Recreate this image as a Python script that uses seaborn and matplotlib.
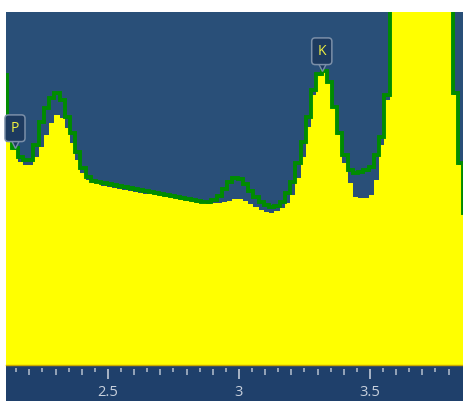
import numpy as np
import pandas as pd
import matplotlib
matplotlib.use("Agg")
import matplotlib.pyplot as plt
import matplotlib.transforms as mtransforms
from matplotlib.patches import Rectangle
import seaborn as sns

# ---------------- data ----------------
channel_start = 2.105      # keV, centre of first channel
channel_width = 0.02       # keV per channel

spectrum_counts = [
    223, 223, 215, 203, 200, 200, 208, 218, 230, 242,
    250, 247, 237, 222, 205, 192, 185, 182, 182, 179,
    178, 177, 176, 175, 174, 173, 172, 171, 171, 170,
    169, 168, 167, 166, 165, 164, 163, 162, 162, 161,
    162, 162, 163, 164, 166, 166, 164, 161, 158, 155,
    153, 152, 154, 157, 162, 170, 187, 208, 238, 270,
    289, 293, 282, 257, 230, 202, 182, 168, 167, 167,
    170, 185, 220, 265, 420, 610, 790, 930, 1010, 1040,
    1000, 900, 760, 610, 480, 380, 270, 200, 150,
]

fit_counts = [
    290, 225, 217, 208, 205, 205, 220, 243, 257, 267,
    272, 265, 248, 232, 213, 197, 188, 184, 183, 182,
    181, 180, 179, 178, 177, 176, 175, 174, 173, 172,
    171, 170, 169, 168, 167, 166, 165, 164, 163, 163,
    165, 169, 176, 183, 187, 186, 181, 174, 168, 163,
    160, 158, 159, 163, 172, 183, 202, 223, 248, 275,
    291, 294, 283, 258, 232, 210, 195, 192, 193, 195,
    198, 210, 228, 270, 423, 613, 793, 933, 1013, 1043,
    1003, 903, 763, 613, 483, 383, 272, 202, 152,
]

peak_labels = ["P", "K"]
peak_energies = [2.145, 3.316]
peak_counts = [218, 295]

tick_values = [2.5, 3.0, 3.5]
tick_labels = ["2.5", "3", "3.5"]

# ---------------- styling ----------------
BG = "#294f78"
STRIP = "#1f406b"
YELLOW = "#ffff00"
GREEN = "#008c00"
TICK = "#a9b5c6"
LABEL = "#c8d0dc"
FONT = ["Open Sans", "DejaVu Sans"]

W, H = 464, 401
fig = plt.figure(figsize=(W / 100, H / 100), dpi=100)
fig.patch.set_facecolor("white")

# axis strip at the bottom
fig.add_artist(Rectangle((6 / W, 0), (W - 6) / W, 36 / H,
                         transform=fig.transFigure, facecolor=STRIP,
                         edgecolor="none", zorder=-1))

ax = fig.add_axes([6 / W, 36 / H, 457 / W, 353 / H])
ax.set_facecolor(BG)

n = len(spectrum_counts)
centers = np.round(channel_start + channel_width * np.arange(n), 4)
edges = [float(v) for v in np.round(channel_start - channel_width / 2
                                    + channel_width * np.arange(n + 1), 4)]

df = pd.DataFrame({"energy": centers,
                   "spectrum": spectrum_counts,
                   "fit": fit_counts})

sns.histplot(data=df, x="energy", weights="spectrum", bins=edges, element="step",
             fill=True, color=YELLOW, alpha=1, linewidth=0, ax=ax, zorder=2)
sns.histplot(data=df, x="energy", weights="fit", bins=edges, element="step",
             fill=False, color=GREEN, linewidth=2.8, ax=ax, zorder=3)
for ln in ax.lines:
    ln.set_solid_joinstyle("miter")
    ln.set_solid_capstyle("butt")

ax.axhline(0, color="#c9a800", lw=1.0, zorder=4, clip_on=False)

ax.set_xlim(2.1107, 3.855)
ax.set_ylim(0, 353)
ax.set_xlabel("")
ax.set_ylabel("")
ax.set_yticks([])
for s in ["top", "right", "left"]:
    ax.spines[s].set_visible(False)
ax.spines["bottom"].set_position(("outward", 3))
ax.spines["bottom"].set_visible(False)

ax.set_xticks(tick_values)
ax.set_xticklabels(tick_labels, fontfamily=FONT)
minor_pos = [round(v, 2) for v in np.arange(2.2, 3.85, 0.1)
             if abs(v * 2 - round(v * 2)) > 1e-6]
ax.set_xticks(minor_pos, minor=True)
ax.tick_params(axis="x", which="major", direction="out", length=7.5, width=1.4,
               color=TICK, labelcolor=LABEL, labelsize=10.5, pad=4.0)
ax.tick_params(axis="x", which="minor", direction="out", length=4.5, width=1.2,
               color=TICK)

sec = ax.secondary_xaxis(-3 / 353)
short_pos = [round(v, 2) for v in np.arange(2.15, 3.85, 0.1)]
sec.set_xticks(short_pos)
sec.tick_params(axis="x", which="both", direction="out", length=2.8, width=1.2,
                color=TICK, labelbottom=False)
sec.xaxis.set_minor_locator(matplotlib.ticker.NullLocator())
for s in sec.spines.values():
    s.set_visible(False)

# peak markers (tags)
for lab, e, c in zip(peak_labels, peak_energies, peak_counts):
    tr = mtransforms.offset_copy(ax.transData, fig=fig, x=0, y=4, units="dots")
    ax.plot([e], [c], marker="v", ms=6.5, mfc="#1d3a5f", mec="#7b8fa8", mew=1.0,
            transform=tr, zorder=5, clip_on=False)
    ax.annotate(lab, xy=(e, c), xytext=(0, 13.5), textcoords="offset points",
                ha="center", va="center", fontsize=10, fontfamily=FONT,
                color="#f0f040", zorder=6,
                bbox=dict(boxstyle="round,pad=0.42,rounding_size=0.25",
                          fc="#1d3a5f", ec="#7b8fa8", lw=1.1))

fig.savefig("out.png", dpi=100, facecolor="white")
